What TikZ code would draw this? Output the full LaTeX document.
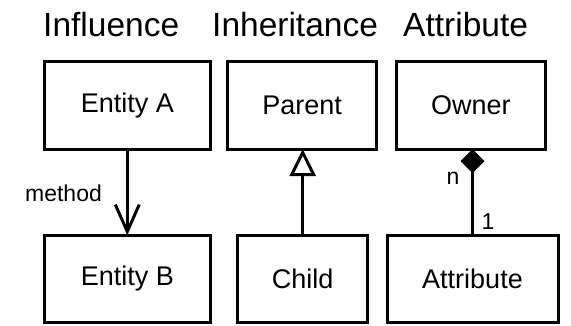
\documentclass[tikz,border=0pt]{standalone}
\usepackage{fontspec}
\setmainfont{Liberation Sans}
\usetikzlibrary{arrows.meta}
\begin{document}
\begin{tikzpicture}[x=1pt,y=-1pt,
  box/.style={draw, line width=3pt, outer sep=0pt, inner sep=0pt,
    font=\fontsize{27}{32}\selectfont, minimum height=87.5pt},
  title/.style={anchor=base west, inner sep=0pt, font=\fontsize{33.5}{40}\selectfont},
  tag/.style={anchor=base, inner sep=0pt, font=\fontsize{23}{28}\selectfont},
  link/.style={line width=3pt}]
\useasboundingbox (0,0) rectangle (571,325);

% column headings
\node[title] (t1) at (43,36) {Influence};
\node[title] (t2) at (212,36) {Inheritance};
\node[title] (t3) at (403,36) {Attribute};

% upper row
\node[box, minimum width=166.5pt] (ea) at (127.3,105.3) {Entity A};
\node[box, minimum width=149pt]   (pa) at (302.2,105.3) {Parent};
\node[box, minimum width=149pt]   (ow) at (470.8,105.3) {Owner};

% lower row
\node[box, minimum width=166.5pt] (eb) at (127.3,279) {Entity B};
\node[box, minimum width=130pt]   (ch) at (302.7,279) {Child};
\node[box, minimum width=171pt]   (at) at (472.5,279) {Attribute};

% influence: plain directed link
\draw[link, -{Straight Barb[length=27pt,width=24pt]}] (ea.south) -- (eb.north);
\node[tag] (m) at (63.5,201.5) {method};

% inheritance: hollow triangle at the parent
\draw[link, -{Triangle[open,length=27pt,width=26pt]}] (ch.north) -- (ch.north |- pa.south);

% composition: filled diamond at the owner
\draw[link, {Diamond[length=24pt,width=24pt]}-] (at.north |- ow.south) -- (at.north);
\node[tag] (n) at (453,184.3) {n};
\node[tag] (one) at (488,229) {1};
\end{tikzpicture}
\end{document}
